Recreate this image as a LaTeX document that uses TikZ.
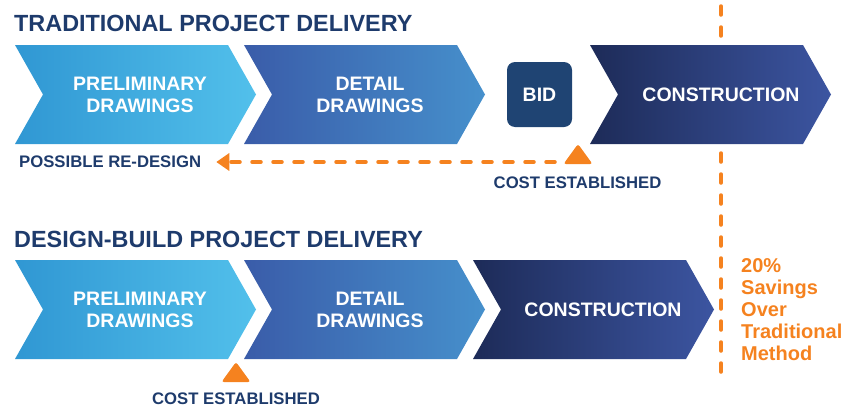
\documentclass[tikz,border=0pt]{standalone}
\usepackage{fontspec}
\setmainfont{Liberation Sans}
\usetikzlibrary{arrows.meta}

\definecolor{navy}{HTML}{1E3B6C}
\definecolor{bidblue}{HTML}{1F4473}
\definecolor{savorange}{HTML}{F5821F}
\definecolor{prelimL}{HTML}{3097D3}
\definecolor{prelimR}{HTML}{52C0EB}
\definecolor{detailL}{HTML}{3A5CA9}
\definecolor{detailR}{HTML}{4690CC}
\definecolor{buildL}{HTML}{1D2B58}
\definecolor{buildR}{HTML}{3C55A1}

\begin{document}
\begin{tikzpicture}[
    x=1pt, y=-1pt,
    >=Stealth,
    title/.style={anchor=base west,inner sep=0pt,text=navy,font=\fontsize{23.4}{26}\selectfont\bfseries},
    phase text/.style={text=white,align=center,inner sep=0pt,font=\fontsize{19.5}{22}\selectfont\bfseries},
    note/.style={anchor=base,inner sep=0pt,text=navy,font=\fontsize{16.7}{18}\selectfont\bfseries},
    prelim/.style={left color=prelimL,right color=prelimR},
    detail/.style={left color=detailL,right color=detailR},
    build/.style={left color=buildL,right color=buildR},
    bid box/.style={fill=bidblue,rounded corners=8pt,minimum size=65pt,inner sep=0pt},
    cost mark/.style={fill=savorange,rounded corners=2.5pt},
    orange dash/.style={draw=savorange,line width=3.5pt,dash pattern=on 9pt off 12pt,line cap=round},
    savings/.style={anchor=north west,inner sep=0pt,align=left,text=savorange,font=\fontsize{20}{22}\selectfont\bfseries}
]
\useasboundingbox (0,0) rectangle (848,407);

% Linha de economia (vertical)
\coordinate (savetop) at (721,6);
\coordinate (savebot) at (721,375);
\draw[orange dash] (savetop) -- (savebot);

% Entrega tradicional
\node[title] (tradtitle) at (14,31) {TRADITIONAL PROJECT DELIVERY};

\shade[prelim] (15,45) -- (228,45) -- (256,94.5) -- (228,144) -- (15,144) -- (43,94.5) -- cycle;
\shade[detail] (244,45) -- (457,45) -- (485,94.5) -- (457,144) -- (244,144) -- (272,94.5) -- cycle;
\shade[build] (590,45) -- (803,45) -- (831,94.5) -- (803,144) -- (590,144) -- (618,94.5) -- cycle;

\node[phase text] (tradprelim) at (140,95) {PRELIMINARY\\DRAWINGS};
\node[phase text] (traddetail) at (370,95) {DETAIL\\DRAWINGS};
\node[bid box] (bid) at (539.5,94.5) {};
\node[phase text] (bidtext) at (bid) {BID};
\node[phase text] (tradbuild) at (721,95) {CONSTRUCTION};

% Custo estabelecido no BID
\coordinate (bidcost) at (578,164);
\fill[cost mark] (bidcost) ++(-14.5,0) -- ++(14.5,-20) -- ++(14.5,20) -- cycle;
\node[note] (bidcostlabel) at (577.5,188) {COST ESTABLISHED};

% Re-projeto possivel
\node[note,anchor=base west] (redesign) at (19,167) {POSSIBLE RE-DESIGN};
\coordinate (redesignstart) at (555,162);
\coordinate (redesignend) at ([xshift=15pt]redesign.east);
\draw[orange dash,-{Triangle[length=13pt,width=17pt]}] (redesignstart) -- (redesignend |- redesignstart);

% Entrega design-build
\node[title] (dbtitle) at (14,247) {DESIGN-BUILD PROJECT DELIVERY};

\shade[prelim] (15,260) -- (228,260) -- (256,309.5) -- (228,359) -- (15,359) -- (43,309.5) -- cycle;
\shade[detail] (244,260) -- (457,260) -- (485,309.5) -- (457,359) -- (244,359) -- (272,309.5) -- cycle;
\shade[build] (473,260) -- (686,260) -- (714,309.5) -- (686,359) -- (473,359) -- (501,309.5) -- cycle;

\node[phase text] (dbprelim) at (140,310) {PRELIMINARY\\DRAWINGS};
\node[phase text] (dbdetail) at (370,310) {DETAIL\\DRAWINGS};
\node[phase text] (dbbuild) at (603,310) {CONSTRUCTION};

% Custo estabelecido cedo
\coordinate (dbcost) at (236,382);
\fill[cost mark] (dbcost) ++(-14.5,0) -- ++(14.5,-20) -- ++(14.5,20) -- cycle;
\node[note] (dbcostlabel) at (236,404) {COST ESTABLISHED};

% Anotacao de economia
\node[savings] (savetext) at (741,258) {20\%\\Savings\\Over\\Traditional\\Method};

\end{tikzpicture}
\end{document}
